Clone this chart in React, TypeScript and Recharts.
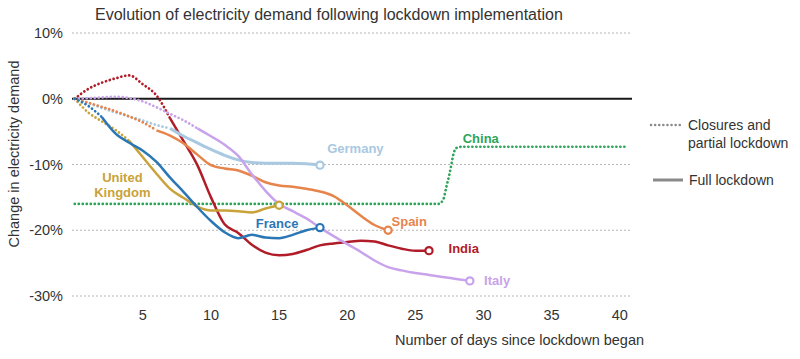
import { LineChart, Line, XAxis, YAxis, CartesianGrid, ReferenceLine, ReferenceDot } from 'recharts'

// days since lockdown / change in demand (%)
const xTicks = [5, 10, 15, 20, 25, 30, 35, 40]
const yTicks = [-30, -20, -10, 0, 10]

const indiaDays = [0, 1, 2, 3, 4, 5, 6, 7, 8, 9, 10, 11, 12, 13, 14, 15, 16, 17, 18, 19, 20, 21, 22, 23, 24, 25, 26]
const indiaValues = [0, 1.5, 2.45, 3.1, 3.55, 2.2, 0.5, -3.0, -6.5, -10.1, -15.0, -19.1, -20.4, -22.2, -23.4, -23.8, -23.6, -23.0, -22.3, -22.0, -21.8, -21.6, -21.7, -22.3, -22.8, -23.1, -23.1]
const indiaFullFrom = 7

const franceDays = [0, 1, 2, 3, 4, 5, 6, 7, 8, 9, 10, 11, 12, 13, 14, 15, 16, 17, 18]
const franceValues = [0, -1.1, -2.8, -5.3, -6.7, -7.9, -9.6, -12.0, -14.2, -16.5, -18.6, -20.3, -21.2, -20.7, -21.1, -21.2, -20.7, -20.0, -19.6]
const franceFullFrom = 2

const ukDays = [0, 1, 2, 3, 4, 5, 6, 7, 8, 9, 10, 11, 12, 13, 14, 15]
const ukValues = [0, -2.1, -3.45, -4.75, -6.4, -8.9, -11.4, -13.7, -15.1, -16.4, -17.0, -17.0, -17.1, -17.3, -16.7, -16.2]
const ukFullFrom = 4

const germanyDays = [0, 1, 2, 3, 4, 5, 6, 7, 8, 9, 10, 11, 12, 13, 14, 15, 16, 17, 18]
const germanyValues = [0, -0.7, -1.4, -2.1, -2.7, -3.3, -4.0, -4.5, -5.7, -6.7, -7.7, -8.6, -9.3, -9.7, -9.8, -9.8, -9.8, -9.9, -10.1]
const germanyFullFrom = 7

const spainDays = [0, 1, 2, 3, 4, 5, 6, 7, 8, 9, 10, 11, 12, 13, 14, 15, 16, 17, 18, 19, 20, 21, 22, 23]
const spainValues = [0, -0.6, -1.25, -1.9, -2.7, -3.6, -4.8, -5.6, -6.8, -8.5, -10.1, -10.6, -10.9, -11.7, -12.7, -13.2, -13.4, -13.7, -14.1, -14.8, -16.2, -17.8, -19.2, -20.0]
const spainFullFrom = 6

const italyDays = [0, 1, 2, 3, 4, 5, 6, 7, 8, 9, 10, 11, 12, 13, 14, 15, 16, 17, 18, 19, 20, 21, 22, 23, 24, 25, 26, 27, 28, 29]
const italyValues = [0, 0.1, 0.2, 0.3, 0.1, -0.4, -1.3, -2.3, -3.3, -4.5, -5.7, -7.0, -8.7, -11.5, -14.0, -16.0, -17.1, -18.2, -19.6, -20.9, -22.1, -23.3, -24.6, -25.6, -26.1, -26.5, -26.8, -27.1, -27.4, -27.7]
const italyFullFrom = 9

const chinaDays = [0, 10, 20, 26.7, 27.05, 27.3, 27.5, 27.65, 27.8, 28.0, 28.4, 35, 40.6]
const chinaValues = [-16, -16, -16, -16, -15.3, -13.2, -11.5, -9.9, -8.4, -7.5, -7.3, -7.3, -7.3]

type Pt = { day: number; value: number }

const toPoints = (days: number[], values: number[]): Pt[] =>
  days.map((d, i) => ({ day: d, value: values[i] }))

const countries = [
  { name: 'India', color: '#b01c28', width: 2.5, days: indiaDays, values: indiaValues, fullFrom: indiaFullFrom },
  { name: 'Germany', color: '#a9c8e1', width: 3, days: germanyDays, values: germanyValues, fullFrom: germanyFullFrom },
  { name: 'Spain', color: '#e6844c', width: 2.5, days: spainDays, values: spainValues, fullFrom: spainFullFrom },
  { name: 'Italy', color: '#c8a2ea', width: 2.5, days: italyDays, values: italyValues, fullFrom: italyFullFrom },
  { name: 'UK', color: '#c9a23a', width: 2.5, days: ukDays, values: ukValues, fullFrom: ukFullFrom },
  { name: 'France', color: '#2b77b5', width: 2.5, days: franceDays, values: franceValues, fullFrom: franceFullFrom },
]

const labels = [
  { text: 'Germany', color: '#a9c8e1', day: 20.6, value: -7.5 },
  { text: 'China', color: '#2ea55a', day: 29.8, value: -6.1 },
  { text: 'United', color: '#c9a23a', day: 3.5, value: -11.9 },
  { text: 'Kingdom', color: '#c9a23a', day: 3.5, value: -14.3 },
  { text: 'France', color: '#2b77b5', day: 14.85, value: -19.0 },
  { text: 'Spain', color: '#e6844c', day: 24.55, value: -18.6 },
  { text: 'India', color: '#b01c28', day: 28.55, value: -22.8 },
  { text: 'Italy', color: '#c8a2ea', day: 31.0, value: -27.6 },
]

const dotted = { strokeWidth: 2.7, strokeDasharray: '0.1 3.9', strokeLinecap: 'round' as const }

export default function App() {
  return (
    <div style={{ position: 'absolute', left: 0, top: 0, width: 800, height: 359, background: '#fff', fontFamily: '"Liberation Sans", Arial, sans-serif', color: '#333' }}>
      <LineChart width={800} height={359} margin={{ top: 33, right: 168, left: 0, bottom: 33 }}>
        <CartesianGrid horizontal vertical={false} stroke="#b5b5b5" strokeDasharray="2 2" />
        <XAxis
          type="number"
          dataKey="day"
          domain={[-0.2, 40.9]}
          ticks={xTicks}
          allowDataOverflow
          axisLine={false}
          tickLine={false}
          tickMargin={8}
          height={30}
          tick={{ fontSize: 14.5, fill: '#333' }}
        />
        <YAxis
          type="number"
          domain={[-30, 10]}
          ticks={yTicks}
          width={72}
          axisLine={false}
          tickLine={false}
          tickMargin={3}
          tick={{ fontSize: 14.5, fill: '#333' }}
          tickFormatter={(v: number) => `${v}%`}
        />
        <ReferenceLine y={0} stroke="#1a1a1a" strokeWidth={2} />

        <Line
          data={toPoints(chinaDays, chinaValues)}
          dataKey="value"
          type="monotone"
          stroke="#2ea55a"
          {...dotted}
          dot={false}
          isAnimationActive={false}
        />

        {countries.map((c) => {
          const pts = toPoints(c.days, c.values)
          const partial = pts.filter((p) => p.day <= c.fullFrom)
          const full = pts.filter((p) => p.day >= c.fullFrom)
          return [
            <Line
              key={c.name + '-partial'}
              data={partial}
              dataKey="value"
              type="monotone"
              stroke={c.color}
              {...dotted}
              dot={false}
              isAnimationActive={false}
            />,
            <Line
              key={c.name + '-full'}
              data={full}
              dataKey="value"
              type="monotone"
              stroke={c.color}
              strokeWidth={c.width}
              isAnimationActive={false}
              dot={(p: any) =>
                p.index === full.length - 1 ? (
                  <circle key={p.index} cx={p.cx} cy={p.cy} r={3.6} fill="#fff" stroke={c.color} strokeWidth={2.2} />
                ) : (
                  <g key={p.index} />
                )
              }
            />,
          ]
        })}

        {labels.map((l) => (
          <ReferenceDot
            key={l.text}
            x={l.day}
            y={l.value}
            r={0}
            fill="none"
            stroke="none"
            label={{ value: l.text, position: 'center', fill: l.color, fontSize: 13, fontWeight: 700 }}
          />
        ))}
      </LineChart>

      <div style={{ position: 'absolute', left: 95, top: 6, fontSize: 16, lineHeight: '18px', whiteSpace: 'nowrap' }}>
        Evolution of electricity demand following lockdown implementation
      </div>
      <div
        style={{
          position: 'absolute',
          left: -86,
          top: 145,
          width: 200,
          fontSize: 14.5,
          lineHeight: '18px',
          textAlign: 'center',
          transform: 'rotate(-90deg)',
          whiteSpace: 'nowrap',
        }}
      >
        Change in electricity demand
      </div>
      <div style={{ position: 'absolute', left: 395, top: 331, fontSize: 14.5, lineHeight: '18px', whiteSpace: 'nowrap' }}>
        Number of days since lockdown began
      </div>

      <svg style={{ position: 'absolute', left: 0, top: 0 }} width={800} height={359} pointerEvents="none">
        <line x1={651} y1={125} x2={681} y2={125} stroke="#8a8a8a" strokeWidth={2.5} strokeDasharray="0.1 4" strokeLinecap="round" />
        <line x1={653} y1={180} x2={683} y2={180} stroke="#8a8a8a" strokeWidth={3} />
      </svg>
      <div style={{ position: 'absolute', left: 688, top: 116, fontSize: 14, lineHeight: '18px', whiteSpace: 'nowrap' }}>
        Closures and
        <br />
        partial lockdown
      </div>
      <div style={{ position: 'absolute', left: 689, top: 171, fontSize: 14, lineHeight: '18px', whiteSpace: 'nowrap' }}>
        Full lockdown
      </div>
    </div>
  )
}
